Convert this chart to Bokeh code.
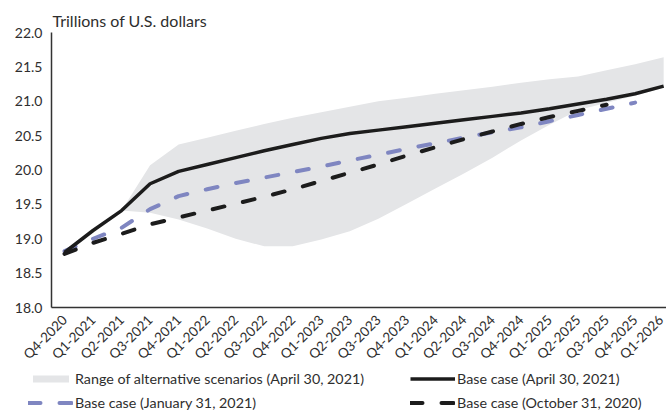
import math
from bokeh.plotting import figure
from bokeh.layouts import column, row
from bokeh.models import Legend, LegendItem, FixedTicker, PrintfTickFormatter
from bokeh.embed import file_html
from bokeh.resources import INLINE

labels = ["Q4-2020", "Q1-2021", "Q2-2021", "Q3-2021", "Q4-2021", "Q1-2022", "Q2-2022",
          "Q3-2022", "Q4-2022", "Q1-2023", "Q2-2023", "Q3-2023", "Q4-2023", "Q1-2024",
          "Q2-2024", "Q3-2024", "Q4-2024", "Q1-2025", "Q2-2025", "Q3-2025", "Q4-2025",
          "Q1-2026"]

base_april = [18.80, 19.12, 19.41, 19.80, 19.98, 20.08, 20.18, 20.28, 20.37, 20.46, 20.53,
              20.58, 20.63, 20.68, 20.73, 20.78, 20.83, 20.89, 20.96, 21.03, 21.11, 21.22]
base_january = [18.82, 19.00, 19.16, 19.43, 19.62, 19.72, 19.81, 19.89, 19.97, 20.05, 20.14,
                20.22, 20.31, 20.39, 20.47, 20.55, 20.62, 20.71, 20.80, 20.89, 20.98]
base_october = [18.78, 18.94, 19.07, 19.21, 19.31, 19.41, 19.51, 19.61, 19.72, 19.84, 19.96,
                20.08, 20.21, 20.33, 20.45, 20.56, 20.67, 20.77, 20.86, 20.95]
range_start = 2
range_upper = [19.41, 20.07, 20.37, 20.47, 20.57, 20.67, 20.76, 20.84, 20.92, 21.00, 21.05,
               21.11, 21.16, 21.21, 21.27, 21.32, 21.36, 21.45, 21.54, 21.64]
range_lower = [19.41, 19.38, 19.28, 19.15, 19.00, 18.89, 18.89, 18.99, 19.11, 19.29, 19.51,
               19.73, 19.95, 20.18, 20.43, 20.66, 20.87, 20.98, 21.08, 21.20]
y_ticks = [18.0, 18.5, 19.0, 19.5, 20.0, 20.5, 21.0, 21.5, 22.0]
legend_labels = ["Range of alternative scenarios (April 30, 2021)",
                 "Base case (April 30, 2021)",
                 "Base case (January 31, 2021)",
                 "Base case (October 31, 2020)"]

FONT = "Lato"
TXT = "#2e2e2e"
BLUE = "#7f86c1"
BLACK = "#1c1c1c"
GREY = "#e4e5e7"

band_style = dict(fill_color=GREY)
jan_style = dict(line_color=BLUE, line_width=4, line_dash="12 19", line_cap="round")
oct_style = dict(line_color=BLACK, line_width=4, line_dash="12 19", line_cap="round")
apr_style = dict(line_color=BLACK, line_width=3.5, line_join="round")

p = figure(width=666, height=371, x_range=(-0.456, 21.1), y_range=(18.0, 22.0),
           output_backend="svg", toolbar_location=None,
           min_border_left=51, min_border_right=0, min_border_top=32, min_border_bottom=64)
p.outline_line_color = None
p.xgrid.grid_line_color = None
p.ygrid.grid_line_color = None

p.title.text = "Trillions of U.S. dollars"
p.title.align = "left"
p.title.offset = 1
p.title.standoff = 5
p.title.text_font = FONT
p.title.text_font_size = "16px"
p.title.text_font_style = "normal"
p.title.text_color = TXT

xs = list(range(len(labels)))
xb = list(range(range_start, range_start + len(range_upper)))
p.varea(x=xb, y1=range_lower, y2=range_upper, **band_style)
p.line(xs[:len(base_january)], base_january, **jan_style)
p.line(xs[:len(base_october)], base_october, **oct_style)
p.line(xs, base_april, **apr_style)

p.xaxis.ticker = FixedTicker(ticks=xs)
p.xaxis.major_label_overrides = {i: lab for i, lab in enumerate(labels)}
p.xaxis.major_label_orientation = math.pi / 4
p.yaxis.ticker = FixedTicker(ticks=y_ticks)
p.yaxis.formatter = PrintfTickFormatter(format="%.1f")
for ax in (p.xaxis, p.yaxis):
    ax.axis_line_color = "#333333"
    ax.axis_line_width = 1.5
    ax.major_tick_line_color = None
    ax.minor_tick_line_color = None
    ax.major_label_text_font = FONT
    ax.major_label_text_color = TXT
p.yaxis.major_label_text_font_size = "14px"
p.xaxis.major_label_text_font_size = "13.5px"
p.yaxis.major_label_standoff = 3
p.xaxis.major_label_standoff = 4

# legend strip: same series, drawn outside its (hidden) ranges, only the legend shows
q = figure(width=666, height=40, x_range=(-100, -99), y_range=(0, 1), output_backend="svg",
           toolbar_location=None, x_axis_type=None, y_axis_type=None,
           min_border_left=0, min_border_right=0, min_border_top=0, min_border_bottom=0)
q.outline_line_color = None
l_band = q.varea(x=xb, y1=range_lower, y2=range_upper, **band_style)
l_apr = q.line(xs, base_april, **apr_style)
l_jan = q.line(xs[:len(base_january)], base_january, **jan_style)
l_oct = q.line(xs[:len(base_october)], base_october, **oct_style)

legend = Legend(items=[
    LegendItem(label=legend_labels[0], renderers=[l_band]),
    LegendItem(label=legend_labels[1], renderers=[l_apr]),
    LegendItem(label=legend_labels[2], renderers=[l_jan]),
    LegendItem(label=legend_labels[3], renderers=[l_oct]),
], location=(28, 0), orientation="horizontal", nrows=2, ncols=2)
legend.glyph_width = 45
legend.glyph_height = 9
legend.label_width = 328
legend.label_height = 16
legend.label_standoff = 2
legend.spacing = 7
legend.padding = 0
legend.margin = 0
legend.border_line_color = None
legend.background_fill_alpha = 0
legend.label_text_font = FONT
legend.label_text_font_size = "14.3px"
legend.label_text_color = TXT
q.add_layout(legend)

layout = column(p, row(q), spacing=0)
open("out.html", "w").write(file_html(layout, INLINE))
